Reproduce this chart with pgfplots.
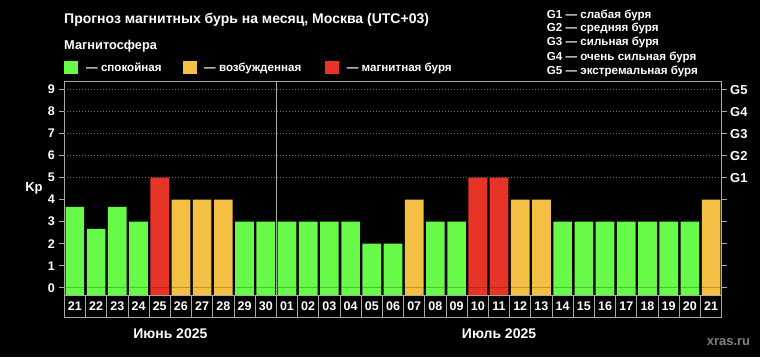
\documentclass[border=0pt]{standalone}
\usepackage{fontspec}
\setmainfont{Liberation Sans}
\usepackage{pgfplots}
\pgfplotsset{compat=1.18}
\definecolor{kgreen}{RGB}{104,250,72}
\definecolor{korange}{RGB}{244,192,68}
\definecolor{kred}{RGB}{232,52,38}
\definecolor{bord}{RGB}{170,170,170}
\definecolor{gridc}{RGB}{110,110,110}
\newcommand\fs[1]{\fontsize{#1}{#1}\selectfont}
\begin{document}
\begin{tikzpicture}[x=1pt,y=1pt]
\fill[black] (0,0) rectangle (760,357);
\node[anchor=base west, white, font=\bfseries\fs{14}, inner sep=0] at (64,333.7) {Прогноз магнитных бурь на месяц, Москва (UTC+03)};
\node[anchor=base west, white, font=\bfseries\fs{12.8}, inner sep=0] at (64,307.7) {Магнитосфера};
\fill[kgreen] (64,283) rectangle (78.3,296);
\node[anchor=base west, white, font=\bfseries\fs{11.6}, inner sep=0] at (86,286) {— спокойная};
\fill[korange] (182.7,283) rectangle (196.7,296);
\node[anchor=base west, white, font=\bfseries\fs{11.6}, inner sep=0] at (204,286) {— возбужденная};
\fill[kred] (325,283) rectangle (339.3,296);
\node[anchor=base west, white, font=\bfseries\fs{11.6}, inner sep=0] at (346.7,286) {— магнитная буря};
\foreach \t/\yy in {G1 — слабая буря/338.7, G2 — средняя буря/325.3, G3 — сильная буря/311.3, G4 — очень сильная буря/297, G5 — экстремальная буря/283}{
  \node[anchor=base west, white, font=\bfseries\fs{11.6}, inner sep=0] at (546.7,\yy) {\t};
}
\node[white, font=\bfseries\fs{13}, inner sep=0] at (34,169) {Kp};
\node[anchor=base, gray, font=\bfseries\fs{13}, inner sep=0] at (728.5,12) {xras.ru};
\begin{axis}[
  at={(64.3pt,62pt)}, anchor=south west, scale only axis,
  width=657.4pt, height=213.3pt,
  xmin=-0.5, xmax=30.5, ymin=-0.33, ymax=9.36,
  axis line style={bord, line width=0.8pt},
  ytick={0,...,9}, ytick pos=left,
  major tick length=5pt, tick align=outside,
  y tick style={bord, line width=0.8pt},
  yticklabel style={white, font=\bfseries\fs{12.5}, xshift=-1pt},
  xtick={0,...,30}, xtick pos=bottom,
  x tick style={draw=none},
  xticklabels={21,22,23,24,25,26,27,28,29,30,01,02,03,04,05,06,07,08,09,10,11,12,13,14,15,16,17,18,19,20,21},
  xticklabel style={white, font=\bfseries\fs{12.5}, anchor=base, yshift=-10pt},
  /pgf/number format/assume math mode=true,
  clip=false,
]
\draw[gridc, dash pattern=on 1pt off 2pt] (axis cs:-0.5,5) -- (axis cs:30.5,5);
\draw[gridc, dash pattern=on 1pt off 2pt] (axis cs:-0.5,6) -- (axis cs:30.5,6);
\draw[gridc, dash pattern=on 1pt off 2pt] (axis cs:-0.5,7) -- (axis cs:30.5,7);
\draw[gridc, dash pattern=on 1pt off 2pt] (axis cs:-0.5,8) -- (axis cs:30.5,8);
\draw[gridc, dash pattern=on 1pt off 2pt] (axis cs:-0.5,9) -- (axis cs:30.5,9);
% green
\addplot[ybar, fill=kgreen, draw=none, bar width=0.88, bar shift=0pt] coordinates {
 (0,3.67) (1,2.67) (2,3.67) (3,3) (8,3) (9,3) (10,3) (11,3) (12,3) (13,3) (14,2) (15,2)
 (17,3) (18,3) (23,3) (24,3) (25,3) (26,3) (27,3) (28,3) (29,3)};
\addplot[ybar, fill=kgreen, draw=none, bar width=0.88, bar shift=0pt] coordinates {
 (0,-0.33) (1,-0.33) (2,-0.33) (3,-0.33) (8,-0.33) (9,-0.33) (10,-0.33) (11,-0.33) (12,-0.33) (13,-0.33) (14,-0.33) (15,-0.33)
 (17,-0.33) (18,-0.33) (23,-0.33) (24,-0.33) (25,-0.33) (26,-0.33) (27,-0.33) (28,-0.33) (29,-0.33)};
% orange
\addplot[ybar, fill=korange, draw=none, bar width=0.88, bar shift=0pt] coordinates {
 (5,4) (6,4) (7,4) (16,4) (21,4) (22,4) (30,4)};
\addplot[ybar, fill=korange, draw=none, bar width=0.88, bar shift=0pt] coordinates {
 (5,-0.33) (6,-0.33) (7,-0.33) (16,-0.33) (21,-0.33) (22,-0.33) (30,-0.33)};
% red
\addplot[ybar, fill=kred, draw=none, bar width=0.88, bar shift=0pt] coordinates {
 (4,5) (19,5) (20,5)};
\addplot[ybar, fill=kred, draw=none, bar width=0.88, bar shift=0pt] coordinates {
 (4,-0.33) (19,-0.33) (20,-0.33)};
\draw[bord, line width=0.8pt] (axis cs:9.5,-0.33) -- (axis cs:9.5,9.36);
\pgfplotsinvokeforeach{-0.5,0.5,1.5,2.5,3.5,4.5,5.5,6.5,7.5,8.5,9.5,10.5,11.5,12.5,13.5,14.5,15.5,16.5,17.5,18.5,19.5,20.5,21.5,22.5,23.5,24.5,25.5,26.5,27.5,28.5,29.5,30.5}{
  \draw[bord, line width=0.8pt] (axis cs:#1,-0.33) -- ([yshift=-22pt]axis cs:#1,-0.33);
}
\draw[bord, line width=0.8pt] ([yshift=-22pt]axis cs:-0.5,-0.33) -- ([yshift=-22pt]axis cs:30.5,-0.33);
\node[white, font=\bfseries\fs{14}, anchor=base] at ([yshift=-43pt]axis cs:4.5,-0.33) {Июнь 2025};
\node[white, font=\bfseries\fs{14}, anchor=base] at ([yshift=-43pt]axis cs:20,-0.33) {Июль 2025};
\end{axis}
\begin{axis}[
  at={(64.3pt,62pt)}, anchor=south west, scale only axis,
  width=657.4pt, height=213.3pt,
  xmin=-0.5, xmax=30.5, ymin=-0.33, ymax=9.36,
  axis x line=none, axis y line*=right,
  axis line style={bord, line width=0.8pt},
  ytick={0,...,9},
  yticklabels={,,,,,G1,G2,G3,G4,G5},
  major tick length=5pt, tick align=outside,
  y tick style={bord, line width=0.8pt},
  yticklabel style={white, font=\bfseries\fs{13}, xshift=0pt},
]
\addplot[draw=none] coordinates {(0,0)};
\end{axis}
\end{tikzpicture}
\end{document}
